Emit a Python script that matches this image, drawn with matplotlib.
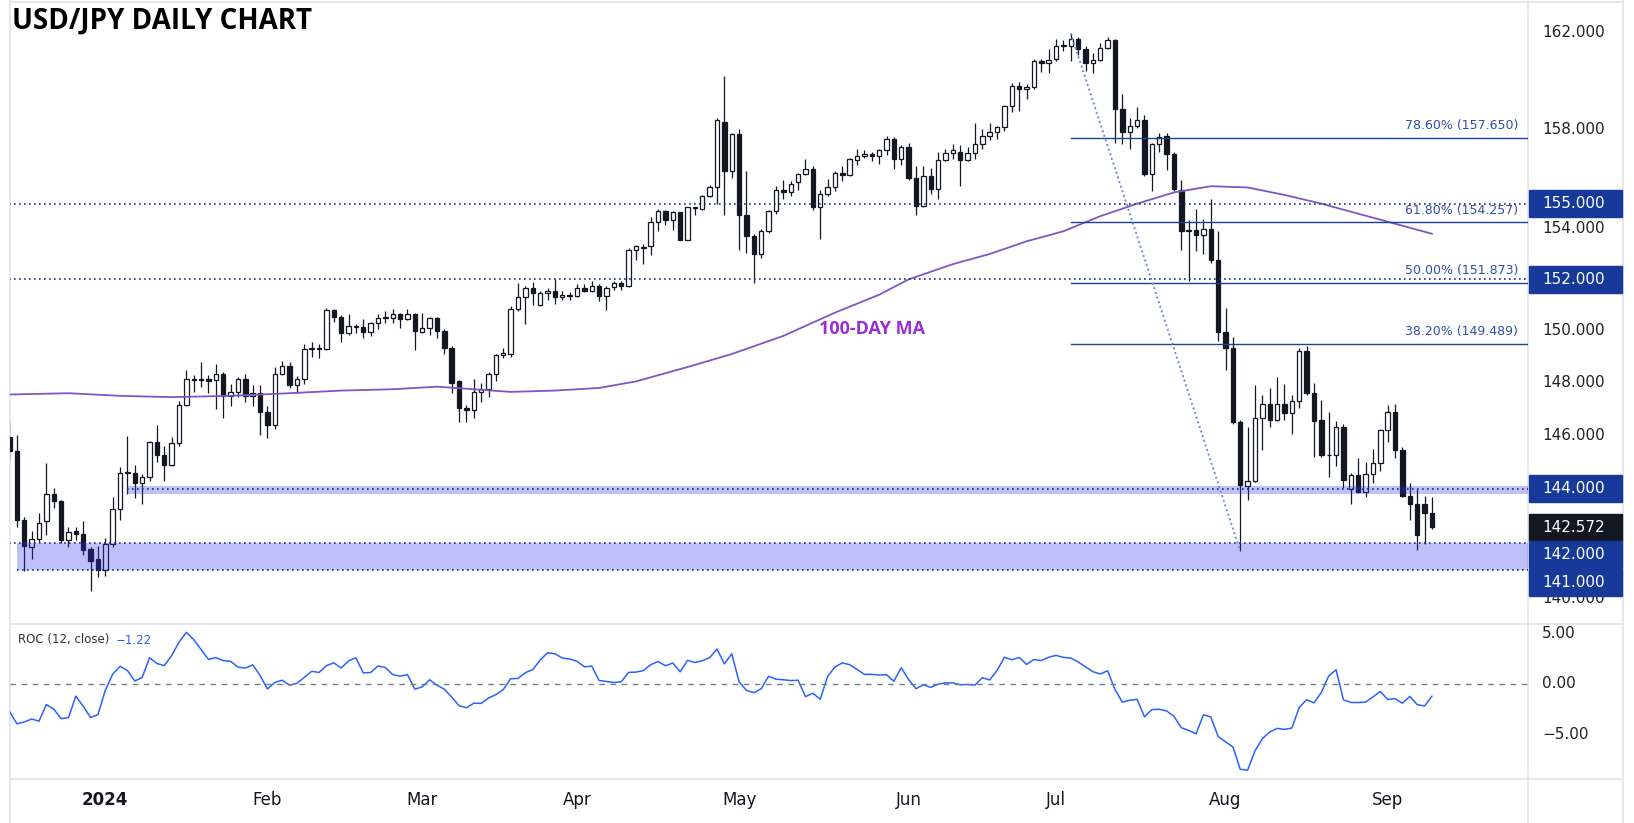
import matplotlib
matplotlib.use('Agg')
import matplotlib.pyplot as plt
import matplotlib.transforms as mtransforms
from matplotlib.patches import Rectangle
from matplotlib.lines import Line2D
import numpy as np
import pandas as pd

# ---- data (USD/JPY daily, 12 Dec 2023 - 10 Sep 2024) ----
holidays = ['2023-12-25', '2024-01-01']
dates = pd.bdate_range('2023-12-12', '2024-09-10')
dates = dates[~dates.isin(pd.to_datetime(holidays))]

opens = [145.95, 145.4, 142.85, 141.85, 142.15, 142.8, 143.8, 143.55, 142.1, 142.45, 142.35, 141.8, 141.4,
         141.0, 141.95, 143.25, 144.6, 144.6, 144.2, 144.45, 145.75, 145.25, 144.9, 145.7, 147.15, 148.15,
         148.15, 148.15, 148.1, 148.35, 147.5, 147.65, 148.15, 147.5, 147.6,
         146.9, 146.4, 148.35, 148.65, 147.9, 148.15, 149.3, 149.35, 149.3, 150.8, 150.55, 149.9, 150.2,
         150.15, 149.95, 150.3, 150.5, 150.5, 150.65, 150.45, 150.65,
         149.95, 150.1, 150.5, 150.0, 149.35, 148.05, 147.05, 146.95, 147.65, 147.75, 148.35, 149.05, 149.1,
         150.85, 151.3, 151.65, 151.0, 151.45, 151.55, 151.3, 151.35,
         151.35, 151.65, 151.55, 151.75, 151.35, 151.7, 151.85, 151.75, 153.15, 153.25, 153.3, 154.25,
         154.7, 154.35, 154.65, 153.55, 154.85, 154.8, 155.3, 155.65, 158.3, 156.3,
         157.8, 154.55, 153.7, 153.0, 153.9, 154.7, 155.55, 155.45, 155.85, 156.2, 156.4, 154.85, 155.4,
         155.65, 156.25, 156.15, 156.75, 156.9, 157.0, 156.9, 157.15, 157.6, 156.8,
         157.3, 156.05, 154.9, 156.1, 155.6, 156.75, 157.05, 157.1, 156.75, 157.05, 157.4, 157.75, 157.9,
         158.1, 158.95, 159.8, 159.65, 159.75, 160.8, 160.75,
         160.9, 161.45, 161.45, 161.75, 161.3, 160.75, 160.85, 161.35, 161.7, 158.85, 157.9, 158.15, 158.4,
         156.2, 157.4, 157.75, 157.0, 155.55, 153.9, 153.95, 153.75, 154.0, 152.75,
         149.95, 149.35, 146.5, 144.1, 144.3, 146.65, 147.2, 146.6, 147.2, 146.85, 147.3, 149.2, 147.6,
         146.6, 145.25, 145.25, 146.3, 144.0, 144.5, 143.9, 144.55, 144.95,
         146.2, 146.9, 145.45, 143.75, 143.45, 143.45, 143.1]
highs = [146.55, 146.0, 142.95, 142.45, 143.1, 144.95, 144.05, 143.6, 142.6, 142.6, 142.8, 141.85, 141.9,
         142.2, 143.7, 144.8, 145.98, 144.9, 144.55, 145.8, 146.4, 145.6, 145.95, 147.3, 148.5, 148.3,
         148.8, 148.3, 148.7, 148.4, 147.95, 148.2, 148.35, 147.9, 147.9,
         147.1, 148.6, 148.85, 148.8, 148.25, 149.5, 149.55, 149.5, 150.88, 150.85, 150.6, 150.65, 150.25,
         150.45, 150.35, 150.65, 150.75, 150.85, 150.7, 150.85, 150.7,
         150.7, 150.55, 150.55, 150.05, 149.4, 148.1, 147.15, 148.15, 148.0, 148.4, 149.1, 149.35, 150.95,
         151.85, 151.75, 151.9, 151.55, 151.65, 152.0, 151.55, 151.5,
         151.8, 151.8, 151.95, 151.8, 151.75, 151.95, 151.95, 153.25, 153.35, 153.4, 154.45,
         154.8, 154.75, 154.7, 154.65, 154.85, 154.88, 155.35, 155.75, 158.45, 160.2, 157.85,
         158.0, 156.3, 153.8, 154.0, 154.75, 155.7, 155.95, 155.9, 156.25, 156.8, 156.5, 155.55, 156.0,
         156.3, 156.5, 156.85, 157.2, 157.15, 157.1, 157.2, 157.75, 157.7, 157.35,
         157.45, 156.5, 156.5, 156.45, 157.1, 157.2, 157.4, 157.35, 157.3, 158.25, 158.0, 158.25, 158.15,
         159.0, 159.9, 159.95, 159.85, 160.9, 160.9, 161.3,
         161.75, 161.7, 161.95, 161.8, 161.45, 161.15, 161.55, 161.8, 161.75, 159.45, 158.45, 158.9, 158.6,
         157.45, 157.85, 157.85, 157.1, 155.95, 154.35, 154.8, 154.4, 155.2, 153.9,
         150.9, 149.75, 146.6, 146.3, 147.9, 147.55, 147.8, 148.2, 147.95, 147.55, 149.35, 149.4,
         148.0, 147.35, 146.9, 146.55, 146.45, 144.6, 145.15, 145.0, 145.5, 146.25,
         147.15, 147.2, 145.55, 144.2, 144.0, 143.75, 143.7]
lows = [145.0, 142.6, 140.97, 141.4, 142.05, 142.3, 143.3, 142.0, 141.85, 142.1, 141.55, 140.25, 140.75,
        140.8, 141.85, 142.85, 143.8, 143.65, 143.45, 144.3, 145.0, 144.3, 144.85, 145.6, 147.1, 147.65,
        147.85, 147.6, 147.0, 146.65, 147.1, 147.45, 147.25, 147.1, 146.0,
        145.9, 146.25, 148.3, 147.8, 147.6, 147.95, 149.0, 148.95, 149.25, 150.35, 149.55, 149.85, 149.9,
        149.7, 149.8, 150.05, 150.3, 150.3, 150.1, 150.4, 149.25,
        149.9, 149.85, 149.7, 149.1, 147.6, 146.5, 146.5, 146.65, 147.25, 147.45, 148.05, 148.95, 149.0,
        150.75, 150.25, 151.0, 150.95, 151.2, 151.05, 151.2, 151.2,
        151.3, 151.5, 151.5, 151.15, 150.8, 151.6, 151.6, 151.7, 152.75, 152.6, 152.95,
        153.9, 154.15, 153.95, 153.55, 153.55, 154.55, 154.75, 155.25, 155.0, 154.55, 156.05,
        153.15, 153.05, 151.85, 152.85, 153.85, 154.6, 155.2, 155.3, 155.55, 156.15, 154.75, 153.6, 155.3,
        155.5, 155.9, 156.1, 156.55, 156.85, 156.7, 156.6, 156.95, 156.4, 156.55,
        155.95, 154.55, 154.85, 155.4, 155.2, 156.7, 156.8, 155.7, 156.7, 156.8, 157.2, 157.55, 157.6,
        157.95, 158.7, 158.75, 159.25, 159.65, 160.35, 160.3,
        160.8, 161.25, 160.8, 161.05, 160.4, 160.3, 160.8, 161.3, 157.45, 157.4, 157.2, 158.05, 156.1,
        155.5, 157.1, 156.35, 155.5, 153.15, 151.95, 153.1, 153.0, 152.65, 149.6,
        148.5, 146.45, 141.7, 143.6, 144.25, 145.45, 146.3, 146.55, 146.6, 146.05, 147.05, 147.55,
        145.2, 145.2, 144.45, 144.85, 144.05, 143.45, 143.85, 143.7, 144.2, 144.65,
        145.75, 145.15, 143.7, 142.85, 141.75, 141.95, 142.5]
closes = [145.4, 142.85, 141.9, 142.15, 142.75, 143.8, 143.55, 142.1, 142.4, 142.35, 141.75, 141.35, 141.0,
          141.95, 143.25, 144.6, 144.62, 144.2, 144.45, 145.75, 145.25, 144.9, 145.7, 147.15, 148.15, 148.12,
          148.1, 148.08, 148.35, 147.5, 147.65, 148.15, 147.5, 147.6, 146.9,
          146.4, 148.35, 148.65, 147.9, 148.15, 149.3, 149.32, 149.3, 150.8, 150.55, 149.9, 150.2, 150.15,
          149.95, 150.3, 150.5, 150.52, 150.65, 150.45, 150.65, 150.0,
          150.1, 150.5, 150.0, 149.35, 148.0, 147.05, 146.95, 147.65, 147.75, 148.35, 149.05, 149.15, 150.85,
          151.3, 151.65, 151.45, 151.45, 151.55, 151.3, 151.4, 151.37,
          151.65, 151.55, 151.75, 151.35, 151.65, 151.85, 151.75, 153.15, 153.3, 153.27, 154.25,
          154.7, 154.35, 154.65, 153.55, 154.85, 154.83, 155.3, 155.65, 158.4, 156.3, 157.8,
          154.55, 153.7, 153.0, 153.9, 154.7, 155.55, 155.45, 155.8, 156.2, 156.4, 154.85, 155.4, 155.65,
          156.25, 156.15, 156.8, 156.9, 157.0, 156.9, 157.15, 157.6, 156.8, 157.3,
          156.05, 154.9, 156.1, 155.6, 156.75, 157.05, 157.15, 156.75, 157.05, 157.4, 157.75, 157.9, 158.1,
          158.95, 159.8, 159.65, 159.75, 160.8, 160.75, 160.85,
          161.45, 161.5, 161.75, 161.3, 160.75, 160.85, 161.35, 161.7, 158.85, 157.9, 158.15, 158.4, 156.2,
          157.4, 157.7, 157.0, 155.6, 153.9, 153.95, 153.75, 154.0, 152.75, 149.95,
          149.35, 146.5, 144.15, 144.3, 146.65, 147.2, 146.6, 147.2, 146.85, 147.3, 149.2, 147.6, 146.55,
          145.25, 145.27, 146.3, 144.33, 144.5, 143.9, 144.55, 144.95, 146.2,
          146.9, 145.45, 143.75, 143.45, 142.3, 143.1, 142.572]

# closes of the 12 sessions before the first candle (needed for ROC 12)
prior_closes = [149.45, 148.7, 147.45, 147.25, 148.2, 146.8, 147.2, 147.15, 147.3, 144.1, 144.95, 146.2]

# 100-day moving average
ma_dates = ['2023-12-12', '2023-12-22', '2024-01-04', '2024-01-15', '2024-01-25', '2024-02-06',
            '2024-02-15', '2024-02-26', '2024-03-05', '2024-03-12', '2024-03-19', '2024-03-27',
            '2024-04-04', '2024-04-11', '2024-04-22', '2024-04-30', '2024-05-09', '2024-05-20',
            '2024-05-28', '2024-06-03', '2024-06-11', '2024-06-18', '2024-06-25', '2024-07-02',
            '2024-07-09', '2024-07-16', '2024-07-23', '2024-07-30', '2024-08-06', '2024-08-13',
            '2024-08-20', '2024-08-27', '2024-09-03', '2024-09-10']
ma_values = [147.55, 147.6, 147.5, 147.45, 147.5, 147.6, 147.7, 147.75, 147.85, 147.75, 147.65, 147.7,
             147.8, 148.05, 148.6, 149.1, 149.8, 150.7, 151.4, 152.0, 152.6, 153.0, 153.5, 153.9,
             154.5, 155.0, 155.45, 155.7, 155.65, 155.35, 155.0, 154.6, 154.2, 153.8]

fib_pcts = ['78.60%', '61.80%', '50.00%', '38.20%']
fib_levels = [157.650, 154.257, 151.873, 149.489]
fib_start = '2024-07-03'
swing_dates = ['2024-07-03', '2024-08-05']
swing_prices = [161.97, 141.70]

dotted_levels = [155.0, 152.0, 144.0, 142.0, 141.0]
dotted_starts = ['2023-12-12', '2023-12-12', '2024-01-05', '2023-12-12', '2023-12-13']
zones = [(143.8, 144.12), (141.0, 142.0)]
zone_starts = ['2024-01-05', '2023-12-13']

price_ticks = [162, 158, 154, 150, 148, 146, 140]
badge_prices = [155.0, 152.0, 144.0, 142.572, 142.0, 141.0]
badge_colors = ['#173a9a', '#173a9a', '#173a9a', '#131722', '#173a9a', '#173a9a']
roc_ticks = [5, 0, -5]

# ---- figure ----
W, H = 1634, 823
DARK = '#131722'
fig = plt.figure(figsize=(W / 100, H / 100), dpi=100)
fig.patch.set_facecolor('white')

n = len(dates)
x = np.arange(n)
pos = {d.strftime('%Y-%m-%d'): i for i, d in enumerate(dates)}
xlim = (0.068, 206.04)

ax = fig.add_axes([10 / W, (H - 623) / H, 1518 / W, 620 / H])
ax.set_yscale('log')
ax.set_ylim(139.1, 163.24)
ax.set_xlim(*xlim)
ax.axis('off')

o = np.array(opens); h = np.array(highs); l = np.array(lows); c = np.array(closes)
up = c >= o
bot = np.minimum(o, c)
hgt = np.maximum(np.abs(c - o), 0.025)
ax.vlines(x, l, h, color=DARK, lw=0.9, zorder=2)
ax.bar(x[up], hgt[up], bottom=bot[up], width=0.6, color='white', edgecolor=DARK, lw=0.9, zorder=3)
ax.bar(x[~up], hgt[~up], bottom=bot[~up], width=0.6, color=DARK, edgecolor=DARK, lw=0.9, zorder=3)

# zones and levels
for (lo, hi), s in zip(zones, zone_starts):
    ax.fill_between([pos[s], xlim[1]], lo, hi, color='#2b2bf0', alpha=0.3, lw=0, zorder=4)
for lev, s in zip(dotted_levels, dotted_starts):
    ax.plot([pos[s], xlim[1]], [lev, lev], color='#1a2f8f', lw=1.2, ls=(0, (1, 2)), zorder=5)

# fibonacci retracements
for pct, lev in zip(fib_pcts, fib_levels):
    ax.plot([pos[fib_start], xlim[1]], [lev, lev], color='#1f3f99', lw=1.0, zorder=5)
    ax.annotate(f'{pct} ({lev:.3f})', xy=(xlim[1] - 1.35, lev), xytext=(0, 4),
                textcoords='offset points', ha='right', va='bottom', fontsize=9, color='#2f4fa8')
ax.plot([pos[d] for d in swing_dates], swing_prices, color='#6d8ad6', lw=1.4, ls=(0, (1, 1.5)), zorder=5)

# moving average
ax.plot([pos[d] for d in ma_dates], ma_values, color='#7e57c2', lw=1.3, zorder=4)
ax.text(pos['2024-05-27'], 150.05, '100-DAY MA', family='Open Sans', fontweight='bold', fontsize=13,
        color='#9b2fd1', ha='center', va='center')

# price scale
trans = mtransforms.blended_transform_factory(ax.transAxes, ax.transData)
lx = (1542 - 10) / 1518
for t in price_ticks:
    ax.text(lx, t, f'{t:.3f}', transform=trans, fontsize=11, color='#222222', va='center',
            ha='left', clip_on=False, zorder=1)

ident = mtransforms.IdentityTransform()
bh = 27
prev = None
for p, col in zip(badge_prices, badge_colors):
    yd = ax.transData.transform((1, p))[1]
    if prev is not None and prev - yd < bh + 0.5:
        yd = prev - bh - 0.5
    prev = yd
    fig.add_artist(Rectangle((1529, yd - bh / 2), 93, bh, transform=ident, color=col, zorder=10))
    fig.text(1542, yd, f'{p:.3f}', transform=ident, fontsize=11, color='white', va='center',
             ha='left', zorder=11)

# ROC pane
ax2 = fig.add_axes([10 / W, (H - 779) / H, 1518 / W, 155 / H])
ax2.set_xlim(*xlim)
ax2.set_ylim(-9.37, 5.89)
ax2.axis('off')
allc = np.array(prior_closes + closes)
roc = (allc[12:] / allc[:-12] - 1) * 100
ax2.plot(x, roc, color='#2962ff', lw=1.1)
ax2.axhline(0, color='#787b86', lw=1, ls=(0, (4, 4)))
trans2 = mtransforms.blended_transform_factory(ax2.transAxes, ax2.transData)
for t in roc_ticks:
    ax2.text(lx, t, f'{t:.2f}'.replace('-', '\u2212'), transform=trans2, fontsize=11, color='#222222',
             va='center', ha='left', clip_on=False)
fig.text(18, H - 640, 'ROC (12, close)', transform=ident, fontsize=8.5, color='#333333', va='center')
fig.text(116, H - 640, f'{roc[-1]:.2f}'.replace('-', '\u2212'), transform=ident, fontsize=8.5,
         color='#2962ff', va='center')

# date axis
trans3 = mtransforms.blended_transform_factory(ax2.transData, ax2.transAxes)
firsts = pd.Series(x, index=dates).groupby([dates.year, dates.month]).first()
for (yr, mo), i in firsts.items():
    if yr < 2024:
        continue
    lab = '2024' if mo == 1 else dates[i].strftime('%b')
    ax2.text(i, -0.135, lab, transform=trans3, fontsize=12, color=DARK, ha='center', va='center',
             fontweight='bold' if mo == 1 else 'normal', clip_on=False)

# pane borders
for (x0, y0, x1, y1) in [(10, 623.5, 1623, 623.5), (10, 779, 1623, 779), (1528, 0, 1528, 823),
                         (10, 0, 10, 823), (1623, 0, 1623, 823), (10, 2, 1623, 2)]:
    fig.add_artist(Line2D([x0, x1], [H - y0, H - y1], transform=ident, color='#e0e3eb', lw=1.2, zorder=0))

fig.text(12, H - 21, 'USD/JPY DAILY CHART', transform=ident, family='Open Sans', fontweight='bold',
         fontsize=20, color='black', va='center', ha='left')

fig.savefig('out.png', dpi=100)
